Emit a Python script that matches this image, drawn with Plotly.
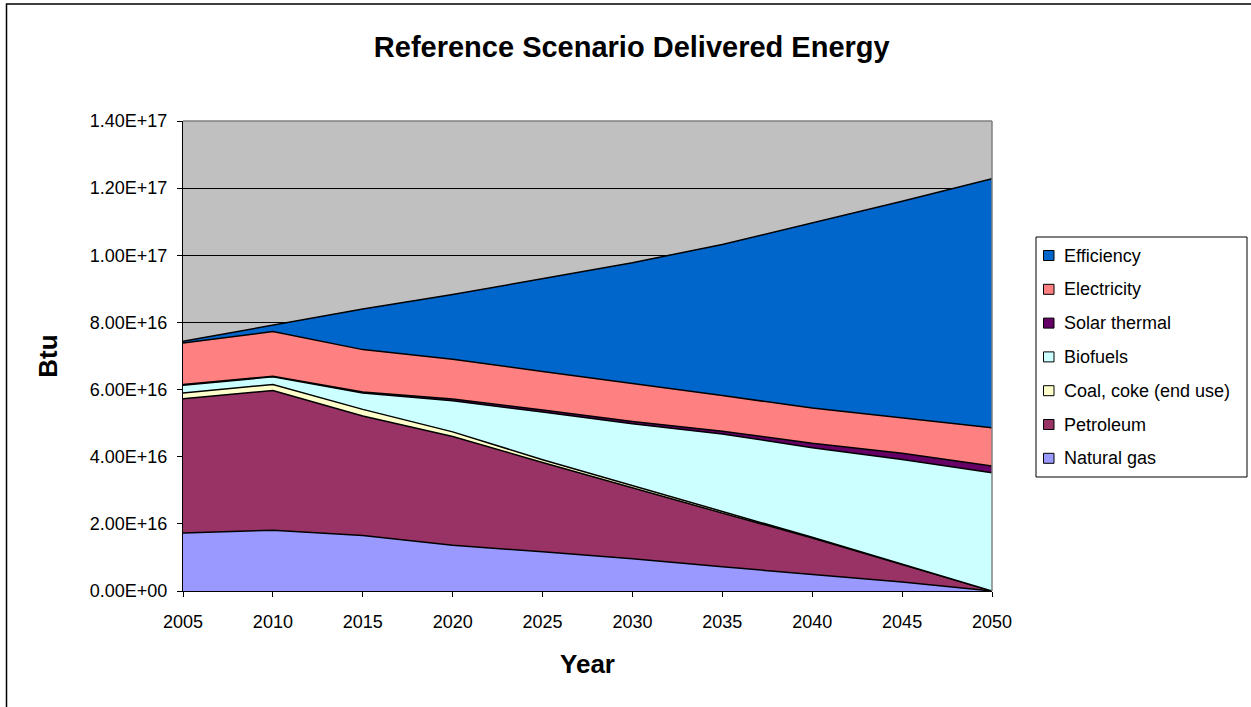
import plotly.graph_objects as go

# Delivered energy by source, Btu
years = [2005, 2010, 2015, 2020, 2025, 2030, 2035, 2040, 2045, 2050]

natural_gas = [1.73e16, 1.81e16, 1.65e16, 1.36e16, 1.17e16, 0.96e16, 0.72e16, 0.49e16, 0.27e16, 0.0]
petroleum = [4.00e16, 4.16e16, 3.56e16, 3.24e16, 2.66e16, 2.11e16, 1.60e16, 1.09e16, 0.52e16, 0.0]
coal_coke = [0.17e16, 0.18e16, 0.20e16, 0.14e16, 0.08e16, 0.08e16, 0.05e16, 0.02e16, 0.01e16, 0.0]
biofuels = [0.23e16, 0.23e16, 0.49e16, 0.93e16, 1.42e16, 1.83e16, 2.31e16, 2.67e16, 3.12e16, 3.52e16]
solar_thermal = [0.02e16, 0.02e16, 0.03e16, 0.05e16, 0.06e16, 0.07e16, 0.08e16, 0.13e16, 0.18e16, 0.20e16]
electricity = [1.24e16, 1.33e16, 1.26e16, 1.18e16, 1.15e16, 1.14e16, 1.06e16, 1.05e16, 1.06e16, 1.14e16]
efficiency = [0.05e16, 0.19e16, 1.21e16, 1.93e16, 2.76e16, 3.59e16, 4.50e16, 5.51e16, 6.45e16, 7.42e16]

series_names = ["Natural gas", "Petroleum", "Coal, coke (end use)", "Biofuels",
                "Solar thermal", "Electricity", "Efficiency"]
series_values = [natural_gas, petroleum, coal_coke, biofuels,
                 solar_thermal, electricity, efficiency]
series_colors = ["#9999FF", "#993366", "#FFFFCC", "#CCFFFF",
                 "#660066", "#FF8080", "#0066CC"]

y_ticks = [0, 2e16, 4e16, 6e16, 8e16, 1.0e17, 1.2e17, 1.4e17]
y_tick_labels = [f"{v:.2E}" for v in y_ticks]

FONT = "Liberation Sans, Arial, sans-serif"

# page geometry (pixels) of the plotting area
W, H = 1251, 707
PL, PR, PT, PB = 183, 992, 121, 591


def px_x(px):
    return (px - PL) / (PR - PL)


def px_y(py):
    return (PB - py) / (PB - PT)


fig = go.Figure()

# stacked areas
for name, vals, col in zip(series_names, series_values, series_colors):
    fig.add_trace(go.Scatter(
        x=years, y=vals, name=name, mode="lines",
        stackgroup="energy", fillcolor=col,
        line=dict(color="black", width=1.5),
        showlegend=False, hoverinfo="x+y+name",
    ))

# legend box drawn beside the plot, newest series on top
LEG_L, LEG_R, LEG_T, LEG_B = 1036, 1247, 237, 477
ROW0, ROW_STEP = 255.5, 33.8
shapes = [
    dict(type="rect", xref="paper", yref="paper",
         x0=px_x(LEG_L), x1=px_x(LEG_R), y0=px_y(LEG_B), y1=px_y(LEG_T),
         line=dict(color="black", width=1), fillcolor="white", layer="above"),
]
annotations = []
for i, (name, col) in enumerate(zip(series_names[::-1], series_colors[::-1])):
    cy = ROW0 + i * ROW_STEP
    shapes.append(dict(
        type="rect", xref="paper", yref="paper",
        x0=px_x(1043.5), x1=px_x(1054), y0=px_y(cy + 5), y1=px_y(cy - 5),
        line=dict(color="black", width=1), fillcolor=col, layer="above"))
    annotations.append(dict(
        text=name, xref="paper", yref="paper",
        x=px_x(1062), y=px_y(cy), xanchor="left", yanchor="middle",
        showarrow=False, font=dict(family=FONT, size=18, color="black")))

# plot frame (top and right edges) and the outer chart border
shapes += [
    dict(type="line", xref="paper", yref="paper", x0=0, x1=1, y0=1, y1=1,
         line=dict(color="#808080", width=1.5), layer="above"),
    dict(type="line", xref="paper", yref="paper", x0=1, x1=1, y0=0, y1=1,
         line=dict(color="#808080", width=1.5), layer="above"),
    dict(type="rect", xref="paper", yref="paper",
         x0=px_x(6.5), x1=px_x(1300), y0=px_y(760), y1=px_y(4),
         line=dict(color="black", width=1.5), layer="below"),
]

fig.update_layout(
    width=W, height=H,
    margin=dict(l=PL, r=W - PR, t=PT, b=H - PB),
    paper_bgcolor="white",
    plot_bgcolor="#C0C0C0",
    showlegend=False,
    font=dict(family=FONT, size=18, color="black"),
    title=dict(
        text="Reference Scenario Delivered Energy",
        font=dict(family=FONT, size=29, color="black", weight="bold"),
        x=0.505, xanchor="center", xref="container",
        y=1 - 47 / H, yanchor="middle", yref="container",
    ),
    xaxis=dict(
        range=[2005, 2050], tickvals=years,
        showgrid=False, zeroline=False,
        showline=True, linecolor="black", linewidth=1,
        ticks="outside", ticklen=5, tickcolor="black",
        ticklabelstandoff=9,
        tickfont=dict(size=18),
        title=dict(text="Year", font=dict(size=26, weight="bold"), standoff=24),
    ),
    yaxis=dict(
        range=[0, 1.4e17], tickvals=y_ticks, ticktext=y_tick_labels,
        showgrid=True, gridcolor="black", gridwidth=1,
        zeroline=False,
        showline=True, linecolor="black", linewidth=1,
        ticks="outside", ticklen=5, tickcolor="black",
        ticklabelstandoff=6,
        tickfont=dict(size=18),
        title=dict(text="Btu", font=dict(size=26, weight="bold"), standoff=24),
    ),
    shapes=shapes,
    annotations=annotations,
)

fig.write_html("out.html")
